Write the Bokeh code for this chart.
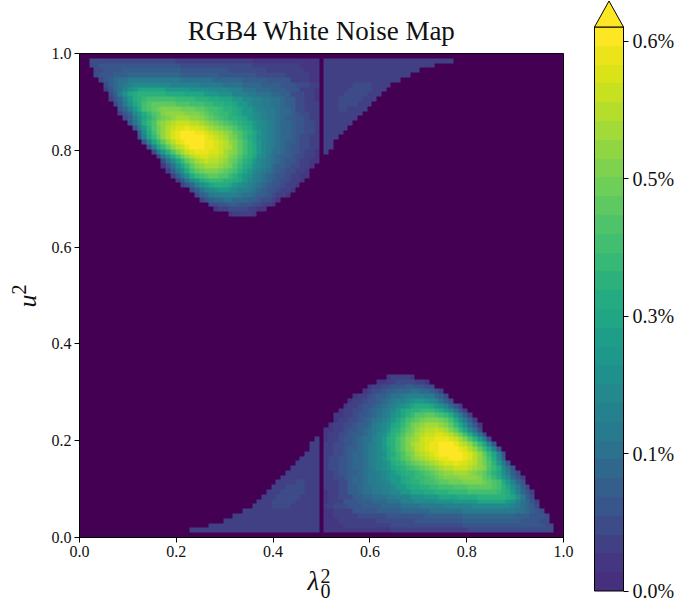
from bokeh.plotting import figure
from bokeh.embed import file_html
from bokeh.resources import INLINE
from bokeh.layouts import column
from bokeh.models import LinearColorMapper, ColorBar, FixedTicker
from bokeh.core.properties import value
from bokeh.palettes import Viridis256
import numpy as np

TITLE = "RGB4 White Noise Map"
N_CELLS = 101
N_LEVELS = 30
VALUE_TOP = 0.6157  # percent, top of the last colour band
TICKS = [0.0, 0.15, 0.3, 0.45, 0.6]
TICK_TEXT = ["0.0%", "0.1%", "0.3%", "0.5%", "0.6%"]
AXIS_TICKS = [0.0, 0.2, 0.4, 0.6, 0.8, 1.0]
PALETTE_INDEX = [34, 40, 48, 58, 68, 77, 86, 95, 104, 112, 120, 128, 136, 143, 150,
                 157, 164, 171, 178, 185, 192, 199, 206, 213, 220, 227, 234, 241, 248, 255]
# Colour band read for each symbol of the rows below.
BAND_OF_SYMBOL = [0, 1, 2, 3, 4, 5, 6, 7, 8, 9, 10, 11, 12, 14, 15, 16, 17, 18, 19, 20,
                  21, 22, 23, 24, 25, 26, 27, 28, 29, 29]

# Upper lobe, left of the line at lambda^2 = 0.5. Each entry: first column, symbol per cell.
left_rows = [
 (2, "333333333333333333222222222222222211111111111111"),
 (2, "334444444444444444433333333333333322222222221111"),
 (3, "33444455555555555544444444443333333322222222111"),
 (3, "34445556666666666655555555444444443333332222211"),
 (4, "3" + "45" + "67" + "78" + "8888888888" + "7777777" + "666666" + "55555" + "44444" + "2222" + "11"),
 (5, "356789" + "aaaaaaaa" + "999999" + "88888" + "7777" + "6666" + "5555" + "444" + "333" + "22"),
 (5, "24679bc" + "dddddd" + "ccccc" + "bbbb" + "aaaa" + "999" + "777" + "666" + "555" + "444" + "222" + "1"),
 (6, "358bde" + "ffffff" + "eeee" + "dddd" + "ccc" + "bbb" + "999" + "88" + "777" + "66" + "55" + "333" + "22" + "1"),
 (6, "2469cefg" + "hhhhhh" + "gggg" + "fff" + "ee" + "ddd" + "cc" + "aa" + "99" + "88" + "77" + "6" + "55" + "33" + "22" + "1"),
 (7, "358bdfhi" + "jjjjj" + "iii" + "hhh" + "gg" + "ff" + "ee" + "d" + "cc" + "a" + "99" + "88" + "77" + "6" + "55" + "33" + "22" + "2"),
 (8, "469cehij" + "k" + "llll" + "kkk" + "jj" + "i" + "hh" + "g" + "ff" + "e" + "d" + "cc" + "a" + "99" + "88" + "7" + "66" + "5" + "33" + "222"),
 (8, "246acegijl" + "mmmm" + "lll" + "kjihggfedccba988766543322"),
 (9, "358bdfhjklmnnnmmlkjihgffedcba988765544322"),
 (10, "47aegilmnopppoonmlkjihgfedcba98766544332"),
 (11, "48cfikmopqqrqqponmlkjigfecba98766544332"),
 (12, "5aehkmoqrsssrrqponmljigfdca98766544332"),
 (12, "49dgjmoqrstttsrqponlkigedba98766543322"),
 (13, "49dgjmoqrsttsrrqpomljhfdca98765543322"),
 (14, "49dgjmoprsssrrqponljhfeca98765443322"),
 (15, "38cfilnpqrrrqqpnmljhfeca97765443221"),
 (16, "37behkmopq" + "qpponlkigf" + "dba8765543" + "3221"),
 (17, "37adgjlnopoonmkjhfeca987654432211"),
 (17, "147bdgjlmnnnmlkigedba98655433221"),
 (18, "258behjkll" + "lkjihfdca9" + "8765433221"),
 (19, "258beghijj" + "iigfdcb987" + "654432211"),
 (20, "247acefggg" + "ffedca9876" + "5433221"),
 (21, "2469bcdeee" + "dcba987654" + "43221"),
 (23, "3579abccba" + "9987654432" + "21"),
 (24, "3568899998" + "7765543221"),
 (25, "24566776665" + "543321"),
 (27, "33445544433221"),
 (28, "12233332211"),
 (31, "122221"),
]

# Upper lobe, right of the line: symbols from column 51 on.
right_rows = [
 "222222222222222222222222222",
 "22222222222222222222222",
 "22222222222222222222",
 "222222222222222222",
 "2222222222222222",
 "22222233332222",
 "2222233333222",
 "222233333222",
 "22233333222",
 "2223333222",
 "222332222",
 "22222222",
 "2222222",
 "222222",
 "22222",
 "2222",
 "222",
 "22",
 "22",
 "2",
]

SYMBOLS = "0123456789abcdefghijklmnopqrst"
band_width = VALUE_TOP / N_LEVELS


def cell_value(ch):
    return (BAND_OF_SYMBOL[SYMBOLS.index(ch)] + 0.5) * band_width


grid = np.full((N_CELLS, N_CELLS), -1.0)  # index [row from top][column]
for r, (start, text) in enumerate(left_rows, start=1):
    for i, ch in enumerate(text):
        if start + i < 50:
            grid[r, start + i] = cell_value(ch)
for r, text in enumerate(right_rows, start=1):
    for i, ch in enumerate(text):
        grid[r, 51 + i] = cell_value(ch)
# The lower lobe is the upper lobe turned half a turn, as in the picture.
for r in range(1, 34):
    for c in range(N_CELLS):
        grid[100 - r, 100 - c] = grid[r, c]

palette = [Viridis256[i] for i in PALETTE_INDEX]
mapper = LinearColorMapper(palette=palette, low=0, high=VALUE_TOP,
                           low_color="#440154", high_color="#fde725")

W, H = 678, 605
LEFT, RIGHT, TOP, BOTTOM = 79, 563, 53, 537
ABS = {"position": "absolute", "left": "0px", "top": "0px"}
p = figure(width=W, height=H, x_range=(0, 1), y_range=(0, 1),
           output_backend="svg", toolbar_location=None,
           min_border_left=LEFT, min_border_right=W - RIGHT,
           min_border_top=TOP, min_border_bottom=H - BOTTOM,
           background_fill_color="white", border_fill_color="white",
           frame_align=False, styles=ABS)
p.grid.visible = False
p.image(image=[grid[::-1]], x=0, y=0, dw=1, dh=1, color_mapper=mapper)

p.outline_line_color = "black"
p.outline_line_width = 1
for ax in (p.xaxis[0], p.yaxis[0]):
    ax.ticker = FixedTicker(ticks=AXIS_TICKS)
    ax.major_tick_in = 0
    ax.major_tick_out = 5
    ax.minor_tick_out = 0
    ax.minor_tick_in = 0
    ax.major_label_text_font = "Liberation Serif"
    ax.major_label_text_font_size = "16px"
    ax.major_label_text_color = "#111111"
    ax.axis_line_color = "black"
    ax.major_tick_line_color = "black"
    ax.major_label_standoff = 3
    ax.major_label_overrides = {t: f"{t:.1f}" for t in AXIS_TICKS}

cb = ColorBar(color_mapper=mapper, width=29, height=564, padding=0, margin=0,
              location=(594 - LEFT, -(590.5 - BOTTOM)),
              ticker=FixedTicker(ticks=TICKS),
              major_label_overrides=dict(zip(TICKS, TICK_TEXT)),
              major_label_text_font="Liberation Serif",
              major_label_text_font_size="20px",
              major_label_text_color="#111111",
              major_tick_in=0, major_tick_out=5, major_tick_line_color="black",
              minor_tick_out=0, minor_tick_in=0,
              bar_line_color="black", bar_line_width=1,
              background_fill_alpha=0, border_line_color=None, label_standoff=4)
p.add_layout(cb)

# A transparent sheet in page pixels over the chart: title, axis symbols, colour bar arrow.
sheet = figure(width=W, height=H, x_range=(0, W), y_range=(H, 0),
               output_backend="svg", toolbar_location=None,
               min_border=0, min_border_left=0, min_border_right=0,
               min_border_top=0, min_border_bottom=0,
               background_fill_alpha=0, border_fill_alpha=0,
               outline_line_color=None, frame_align=False, styles=ABS)
sheet.xaxis.visible = False
sheet.yaxis.visible = False
sheet.grid.visible = False


def add_text(text, x, y, size, italic=False, angle=0.0, align="left"):
    sheet.text([x], [y], text=[text], text_font=value("Liberation Serif"),
               text_font_size=f"{size}px",
               text_font_style="italic" if italic else "normal",
               text_color="#111111", angle=angle, text_align=align,
               text_baseline="alphabetic")


add_text(TITLE, 321, 30, 27, align="center")
add_text("λ", 307, 580, 27, italic=True)
add_text("2", 320, 575, 20)
add_text("0", 320, 590, 20)
add_text("u", 27, 307, 26, italic=True, angle=np.pi / 2)
add_text("2", 18, 294, 20, angle=np.pi / 2)
sheet.patch([594, 608.5, 623], [26.5, 0.5, 26.5], fill_color="#fde725", line_color="black",
            line_width=1)

page = column(p, sheet, width=W, height=H, styles=ABS)
open("out.html", "w").write(file_html(page, INLINE))
